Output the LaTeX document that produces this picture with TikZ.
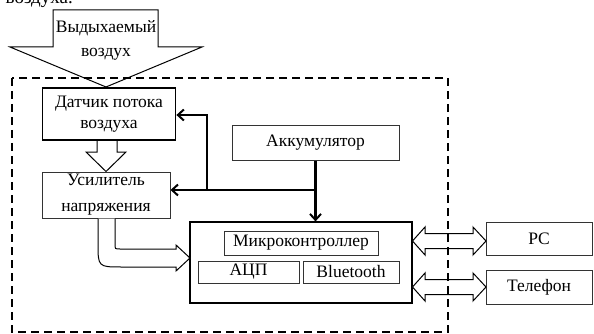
\documentclass[tikz,border=0pt]{standalone}
\usepackage{fontspec}
\setmainfont{Liberation Serif}
\usetikzlibrary{arrows.meta}
\begin{document}
\begin{tikzpicture}[x=1pt,y=-1pt,
  txt/.style={font=\fontsize{17.5}{21}\selectfont, text=black},
  box/.style={draw=black!80, line width=1pt, fill=white, inner sep=0pt, txt, align=center},
  thickbox/.style={box, draw=black, line width=1.8pt},
  hollow/.style={draw=black, line width=1pt, fill=white, line join=miter},
  power/.style={draw=black, line width=2.2pt, -{Straight Barb[length=6pt,width=11pt,line width=2pt]}},
  frame/.style={draw=black, line width=1.4pt, dash pattern=on 8pt off 5pt}]
\useasboundingbox (0,0) rectangle (594,334);

% fragment of the preceding text line
\node[anchor=base east, inner sep=0pt, font=\fontsize{19}{22}\selectfont] (prev) at (73,4) {воздуха.};

% exhaled air arrow
\draw[hollow] (53,10) -- (158,10) -- (158,47) -- (202,47) -- (106,87) -- (10,47) -- (53,47) -- cycle;
\node[txt, align=center, font=\fontsize{17.5}{24}\selectfont] (air) at (106,40) {Выдыхаемый\\воздух};

% boxes
\node[thickbox, minimum width=133pt, minimum height=52pt, font=\fontsize{17.5}{21}\selectfont] (ds) at (109,114) {Датчик потока\\воздуха};
\node[box, minimum width=128pt, minimum height=46pt, font=\fontsize{17.5}{26}\selectfont] (us) at (106,195) {Усилитель\\напряжения};
\node[box, minimum width=167pt, minimum height=34pt] (akk) at (315.5,143) {Аккумулятор};
\node[box, draw=black, line width=1.2pt, minimum width=222pt, minimum height=81pt] (mc) at (301,262.5) {};
\node[box, minimum width=154pt, minimum height=24pt] (mcu) at (301,243) {Микроконтроллер};
\node[box, minimum width=101pt, minimum height=22pt] (adc) at (248.5,272) {АЦП};
\node[box, minimum width=96pt, minimum height=22pt] (bt) at (351,272) {Bluetooth};
\node[box, minimum width=106pt, minimum height=33pt] (pc) at (539,238.5) {PC};
\node[box, minimum width=106pt, minimum height=34pt] (tel) at (539,287) {Телефон};

% hollow arrow sensor -> amplifier
\draw[hollow] (97,141) -- (97,152) -- (86,152) -- (106,171.5) -- (126,152) -- (117,152) -- (117,141);

% hollow curved arrow amplifier -> MCU
\draw[hollow] (98,218.5) -- (98,243) .. controls (98,267) .. (122,267) -- (176,267) -- (176,271)
  -- (190,258) -- (176,245) -- (176,249) -- (120,249) .. controls (115,249) .. (115,244) -- (115,218.5);

% double arrows
\foreach \yc/\nm in {241/pcarrow,287/telarrow}{
  \draw[hollow] (412.5,\yc) -- (425,\yc-14) -- (425,\yc-7.5) -- (473,\yc-7.5) -- (473,\yc-14) -- (486,\yc)
    -- (473,\yc+14) -- (473,\yc+7.5) -- (425,\yc+7.5) -- (425,\yc+14) -- cycle;
}

% power lines
\coordinate (j1) at (315.5,190);
\coordinate (j2) at (207,190);
\coordinate (j3) at (207,115);
\draw[power] (akk.south) -- (akk.south |- mc.north);
\draw[power] (j1) -- (j2) -- (us.east |- j1);
\draw[power] (j2) -- (j3) -- (ds.east |- j3);

% device boundary
\draw[frame] (12,78) rectangle (448,332);
\end{tikzpicture}
\end{document}
